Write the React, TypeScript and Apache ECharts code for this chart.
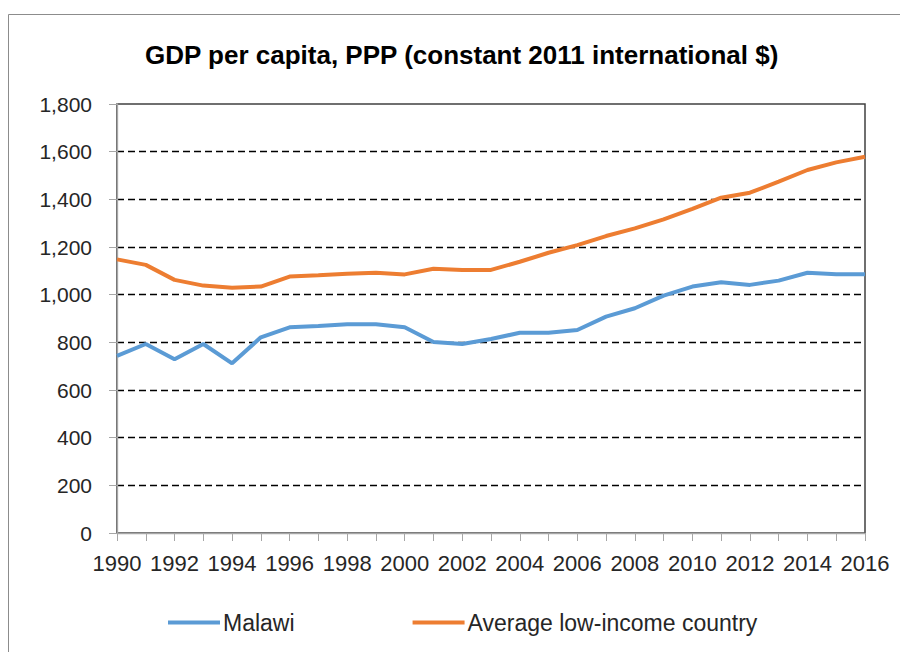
import React, { useEffect, useRef } from "react";
import * as echarts from "echarts";

const years = [
  "1990", "1991", "1992", "1993", "1994", "1995", "1996", "1997", "1998", "1999",
  "2000", "2001", "2002", "2003", "2004", "2005", "2006", "2007", "2008", "2009",
  "2010", "2011", "2012", "2013", "2014", "2015", "2016",
];

const malawi = [
  743, 793, 729, 793, 712, 821, 863, 869, 876, 876,
  863, 801, 793, 814, 840, 840, 852, 908, 943, 996,
  1034, 1052, 1041, 1059, 1092, 1086, 1086,
];

const lowIncome = [
  1148, 1125, 1062, 1038, 1029, 1034, 1076, 1081, 1088, 1092,
  1085, 1109, 1104, 1104, 1138, 1176, 1208, 1246, 1278, 1316,
  1360, 1407, 1428, 1474, 1523, 1555, 1579,
];

const seriesNames = ["Malawi", "Average low-income country"];
const titleText = "GDP per capita, PPP (constant 2011 international $)";

const FONT = "'Liberation Sans', Arial, sans-serif";

export default function App() {
  const ref = useRef<HTMLDivElement>(null);

  useEffect(() => {
    if (!ref.current) return;
    const chart = echarts.init(ref.current, undefined, { renderer: "svg" });
    chart.setOption({
      animation: false,
      backgroundColor: "#ffffff",
      textStyle: { fontFamily: FONT },
      title: {
        text: titleText,
        left: 140,
        top: 37,
        textStyle: { fontFamily: FONT, fontSize: 26, fontWeight: "bold", color: "#000000" },
      },
      graphic: [
        {
          type: "rect",
          shape: { x: 8.5, y: 14.5, width: 1000, height: 1000 },
          style: { fill: "none", stroke: "#8c8c8c", lineWidth: 1 },
          silent: true,
        },
      ],
      legend: {
        left: 163,
        top: 606,
        icon: "rect",
        itemWidth: 52,
        itemHeight: 4,
        itemGap: 118,
        textStyle: { fontFamily: FONT, fontSize: 23, color: "#262626", padding: [0, 0, 0, -2] },
        data: seriesNames,
      },
      grid: {
        left: 117,
        right: 35,
        top: 104,
        bottom: 119,
        show: true,
        borderColor: "#404040",
        borderWidth: 1.5,
        backgroundColor: "transparent",
      },
      xAxis: {
        type: "category",
        data: years,
        boundaryGap: false,
        axisLine: { lineStyle: { color: "#a6a6a6", width: 1.3 } },
        axisTick: { show: true, interval: 0, length: 8, lineStyle: { color: "#a6a6a6" } },
        axisLabel: {
          interval: 1,
          margin: 19,
          fontFamily: FONT,
          fontSize: 22,
          color: "#262626",
        },
        splitLine: { show: false },
      },
      yAxis: {
        type: "value",
        min: 0,
        max: 1800,
        interval: 200,
        axisLine: { show: true, lineStyle: { color: "#a6a6a6", width: 1.3 } },
        axisTick: { show: true, length: 8, lineStyle: { color: "#a6a6a6" } },
        axisLabel: {
          margin: 25,
          fontFamily: FONT,
          fontSize: 21,
          color: "#262626",
          formatter: (v: number) => v.toLocaleString("en-US"),
        },
        splitLine: {
          show: true,
          showMinLine: false,
          showMaxLine: false,
          lineStyle: { color: "#000000", type: [7, 4], width: 1.4 },
        },
      },
      series: [
        {
          name: seriesNames[0],
          type: "line",
          data: malawi,
          symbol: "none",
          lineStyle: { color: "#5b9bd5", width: 4 },
          itemStyle: { color: "#5b9bd5" },
        },
        {
          name: seriesNames[1],
          type: "line",
          data: lowIncome,
          symbol: "none",
          lineStyle: { color: "#ed7d31", width: 4 },
          itemStyle: { color: "#ed7d31" },
        },
      ],
    });
    return () => chart.dispose();
  }, []);

  return (
    <div
      ref={ref}
      style={{ position: "fixed", left: 0, top: 0, width: 900, height: 652 }}
    />
  );
}
